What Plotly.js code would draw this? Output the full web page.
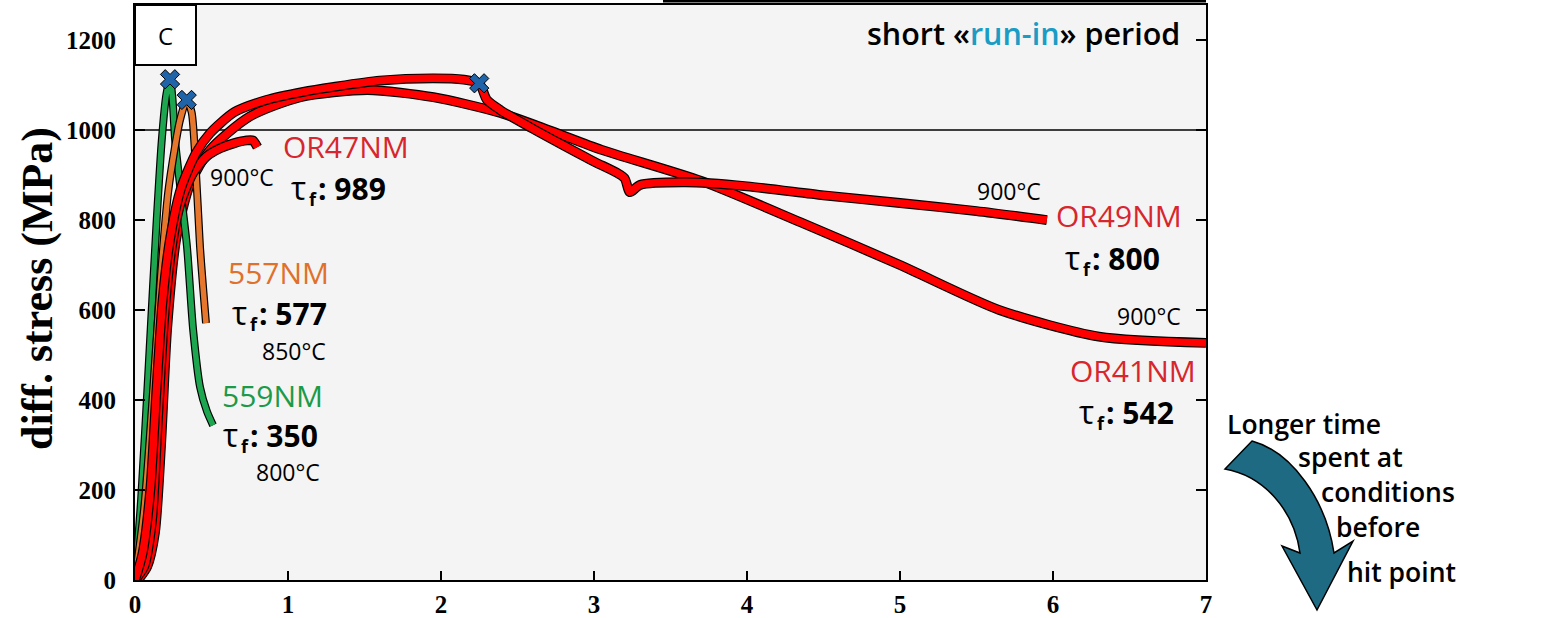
<!DOCTYPE html>
<html>
<head>
<meta charset="utf-8">
<script src="https://cdn.plot.ly/plotly-3.0.1.min.js"></script>
<style>html,body{margin:0;padding:0;background:#fff;}#chart{width:1566px;height:618px;}</style>
</head>
<body>
<div id="chart"></div>
<script>
// ---- data (strain vs differential stress) ----
const green559_x = [0.00, 0.04, 0.09, 0.14, 0.175, 0.205, 0.229, 0.245, 0.262, 0.30, 0.34, 0.38, 0.425, 0.47, 0.51];
const green559_y = [0, 180, 480, 790, 978, 1080, 1113, 1070, 978, 860, 740, 556, 429, 375, 344];

const orange557_x = [0.00, 0.06, 0.12, 0.17, 0.216, 0.26, 0.294, 0.338, 0.37, 0.39, 0.425, 0.445, 0.464];
const orange557_y = [0, 160, 430, 680, 860, 960, 1022, 1067, 1040, 960, 740, 650, 571];

const or47_x = [0.00, 0.06, 0.11, 0.15, 0.19, 0.24, 0.30, 0.38, 0.47, 0.56, 0.65, 0.73, 0.77, 0.80];
const or47_y = [0, 30, 130, 360, 580, 740, 840, 905, 942, 960, 971, 977, 977, 962];

const or49_x = [0.00, 0.05, 0.10, 0.14, 0.18, 0.23, 0.30, 0.40, 0.49, 0.65, 0.86, 1.10, 1.30, 1.60, 1.95, 2.15, 2.25, 2.30, 2.39, 2.60, 2.80, 3.00, 3.15, 3.20, 3.235, 3.30, 3.60, 4.00, 4.50, 5.00, 5.50, 5.96];
const or49_y = [0, 60, 200, 420, 620, 760, 870, 950, 993, 1040, 1067, 1085, 1096, 1110, 1115, 1112, 1104, 1067, 1044, 1003, 966, 930, 905, 893, 862, 878, 884, 875, 855, 838, 820, 800];

const or41_x = [0.02, 0.08, 0.13, 0.17, 0.21, 0.27, 0.36, 0.49, 0.75, 1.08, 1.52, 1.95, 2.39, 2.72, 3.05, 3.70, 4.35, 5.00, 5.65, 6.30, 7.00];
const or41_y = [0, 30, 105, 300, 560, 760, 880, 956, 1030, 1073, 1089, 1073, 1038, 998, 956, 887, 795, 700, 600, 541, 527];

const hit_x = [0.229, 0.338, 2.25];
const hit_y = [1113, 1067, 1104];

const xTicks = [0, 1, 2, 3, 4, 5, 6, 7];
const yTicks = [0, 200, 400, 600, 800, 1000, 1200];

// ---- layout helpers ----
const L = 135, R = 1206, T = 5, B = 580;
function px(x){ return (x - L) / (R - L); }
function py(y){ return (B - y) / (B - T); }

const RED = '#ff0000', GREEN = '#1da64f', ORANGE = '#e8772e';
const TXT_RED = '#d7262d', TXT_OR = '#e0702a', TXT_GR = '#1b9a48';

function curve(x, y, color, w){
  return [
    {x:x, y:y, type:'scatter', mode:'lines', line:{color:'#000', width:w+2.4, shape:'spline', smoothing:0.7}, hoverinfo:'skip', showlegend:false},
    {x:x, y:y, type:'scatter', mode:'lines', line:{color:color, width:w, shape:'spline', smoothing:0.7}, hoverinfo:'skip', showlegend:false}
  ];
}

const traces = [].concat(
  curve(or41_x, or41_y, RED, 7.5),
  curve(green559_x, green559_y, GREEN, 5.5),
  curve(orange557_x, orange557_y, ORANGE, 5.5),
  curve(or47_x, or47_y, RED, 7.5),
  curve(or49_x, or49_y, RED, 7.5),
  [{x:hit_x, y:hit_y, type:'scatter', mode:'markers',
    marker:{symbol:'x', size:17, color:'#1f63a8', line:{color:'#000', width:1}}, hoverinfo:'skip', showlegend:false}]
);

const fLab = 'Open Sans, Noto Sans, sans-serif';
function ann(left, cy, text, size, color, weight, anchor){
  return {xref:'paper', yref:'paper', x:px(left), y:py(cy), xanchor:anchor||'left', yanchor:'middle', borderpad:0,
          text:text, showarrow:false, font:{family:fLab, size:size, color:color, weight:weight||'normal'}};
}
function tau(left, cy, v){
  return [
    ann(left, cy - 1, 'τ', 32, '#000', 'normal'),
    ann(left + 18, cy + 11, 'f', 18, '#000', 'bold'),
    ann(left + 27, cy, ': ' + v, 30, '#000', 'bold')
  ];
}

const annotations = [
  ann(165, 35, 'C', 24, '#000', 'normal', 'center'),
  ann(1181, 33, 'short «<span style="color:#1a9cc4">run-in</span>» period', 30.5, '#000', 600, 'right'),
  ann(282, 146, 'OR47NM', 30, TXT_RED),
  ann(209, 177, '900°C', 23, '#000'),
  ann(227, 272, '557NM', 30, TXT_OR),
  ann(261, 351, '850°C', 23, '#000'),
  ann(221, 395, '559NM', 30, TXT_GR),
  ann(255, 472, '800°C', 23, '#000'),
  ann(976, 191, '900°C', 23, '#000'),
  ann(1055, 215, 'OR49NM', 30, TXT_RED),
  ann(1116, 316, '900°C', 23, '#000'),
  ann(1069, 370, 'OR41NM', 30, TXT_RED),
  ann(1226, 424, 'Longer time', 26.5, '#000', 600),
  ann(1297, 457, 'spent at', 26.5, '#000', 600),
  ann(1320, 492, 'conditions', 26.5, '#000', 600),
  ann(1335, 527, 'before', 26.5, '#000', 600),
  ann(1346, 572, 'hit point', 26.5, '#000', 600),
  {xref:'paper', yref:'paper', x:px(38), y:py(289), xanchor:'center', yanchor:'middle', textangle:-90, borderpad:0,
   text:'diff. stress (MPa)', showarrow:false, font:{family:'Liberation Serif, Times New Roman, serif', size:44, color:'#000', weight:'bold'}}
].concat(
  tau(290, 188, '989'),
  tau(231, 313, '577'),
  tau(222, 435, '350'),
  tau(1064, 258, '800'),
  tau(1078, 412, '542')
);

function P(x, y){ return px(x).toFixed(5) + ',' + py(y).toFixed(5); }
const arrowPath = 'M' + P(1225,469) + ' L' + P(1252,441) +
  ' C' + P(1292,452) + ' ' + P(1326,500) + ' ' + P(1334,553) +
  ' L' + P(1353,541) + ' L' + P(1317,610) + ' L' + P(1282,546) + ' L' + P(1300,553) +
  ' C' + P(1294,510) + ' ' + P(1264,476) + ' ' + P(1225,469) + ' Z';

const shapes = [
  {type:'line', xref:'paper', yref:'y', x0:0, x1:1, y0:1000, y1:1000, line:{color:'#000', width:1.5}, layer:'below'},
  {type:'rect', xref:'paper', yref:'paper', x0:0, x1:px(196), y0:py(65), y1:1, fillcolor:'#fff', line:{color:'#000', width:2}},
  {type:'line', xref:'paper', yref:'paper', x0:px(663), x1:1, y0:py(1), y1:py(1), line:{color:'#000', width:3}},
  {type:'path', xref:'paper', yref:'paper', path:arrowPath, fillcolor:'#1d6a82', line:{color:'#000', width:1.5}}
];

const axisFont = {family:'Liberation Serif, Times New Roman, serif', size:25, color:'#000', weight:'bold'};

const layout = {
  width:1566, height:618,
  margin:{l:L, r:1566-R, t:T, b:618-B, pad:0},
  paper_bgcolor:'#fff', plot_bgcolor:'#f4f4f4',
  showlegend:false,
  xaxis:{range:[0,7], tickvals:xTicks, ticktext:xTicks.map(String), ticks:'inside', ticklen:9, tickwidth:2, tickcolor:'#000',
         showline:true, linecolor:'#000', linewidth:2, mirror:true, showgrid:false, zeroline:false, tickfont:axisFont,
         ticklabelstandoff:1},
  yaxis:{range:[0,1278], tickvals:yTicks, ticktext:yTicks.map(String), ticks:'inside', ticklen:10, tickwidth:2, tickcolor:'#000',
         showline:true, linecolor:'#000', linewidth:2, mirror:'ticks', showgrid:false, zeroline:false, tickfont:axisFont,
         ticklabelstandoff:12},
  annotations:annotations,
  shapes:shapes
};

Plotly.newPlot('chart', traces, layout, {staticPlot:true, displayModeBar:false});
</script>
</body>
</html>
